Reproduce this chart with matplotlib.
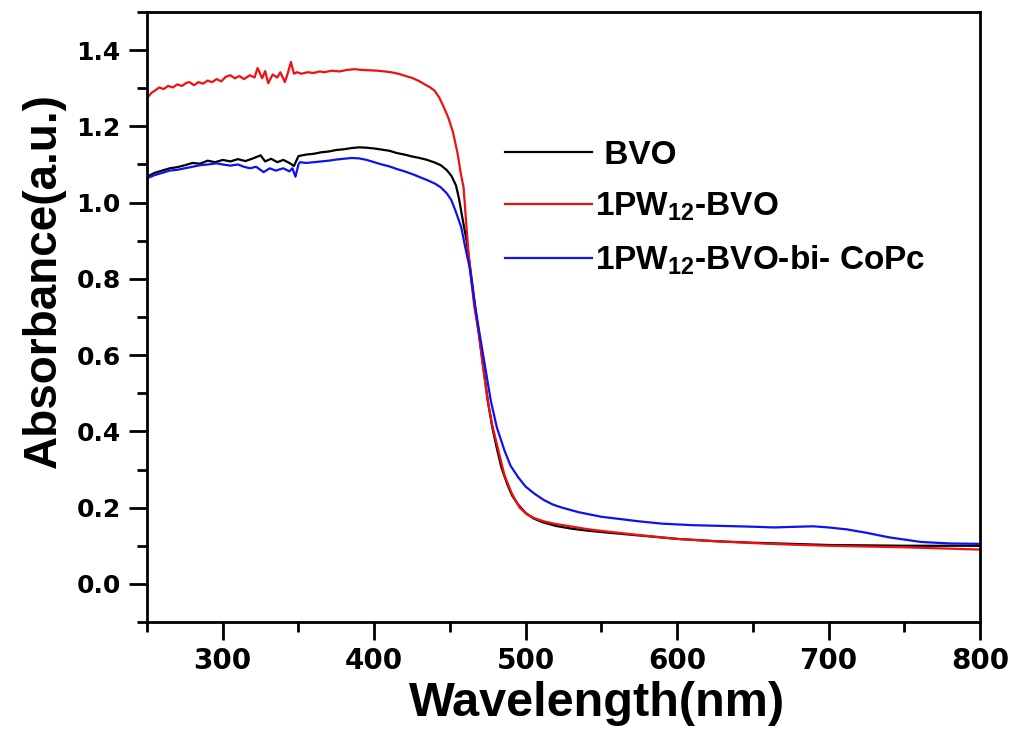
import numpy as np
import matplotlib
matplotlib.use('Agg')
import matplotlib.pyplot as plt
from matplotlib.ticker import MultipleLocator

# BVO (black)
wl_bvo = [250, 255, 260, 265, 270, 275, 280, 285, 290, 295, 300, 305, 310, 315,
          320, 325, 328, 332, 336, 340, 344, 347, 350, 355, 360, 365, 370, 375,
          380, 385, 390, 395, 400, 405, 410, 415, 420, 425, 430, 435, 440, 444,
          448, 451, 454, 456, 458, 461, 463, 465, 467, 469, 472, 475, 478, 481,
          484, 488, 491, 495, 500, 505, 511, 520, 530, 540, 550, 575, 600, 625,
          650, 675, 700, 725, 750, 775, 800]
abs_bvo = [1.068, 1.078, 1.084, 1.090, 1.093, 1.098, 1.104, 1.102, 1.110, 1.106,
           1.112, 1.108, 1.114, 1.109, 1.116, 1.124, 1.108, 1.115, 1.106, 1.112,
           1.104, 1.096, 1.122, 1.126, 1.128, 1.132, 1.134, 1.138, 1.140, 1.143,
           1.145, 1.144, 1.142, 1.139, 1.136, 1.130, 1.126, 1.121, 1.117, 1.112,
           1.105, 1.098, 1.085, 1.070, 1.045, 1.010, 0.965, 0.900, 0.840, 0.780,
           0.715, 0.660, 0.570, 0.480, 0.410, 0.355, 0.305, 0.260, 0.232, 0.208,
           0.186, 0.172, 0.162, 0.152, 0.145, 0.140, 0.136, 0.127, 0.118, 0.112,
           0.108, 0.105, 0.102, 0.101, 0.100, 0.100, 0.100]

# 1PW12-BVO (red)
wl_pw = [250, 253, 256, 258, 261, 264, 267, 270, 273, 276, 278, 281, 284, 287,
         290, 293, 296, 299, 302, 305, 308, 311, 314, 318, 321, 323, 326, 328,
         330, 333, 336, 338, 341, 343, 345, 347, 349, 352, 356, 360, 364, 367,
         372, 377, 382, 387, 392, 397, 402, 407, 411, 416, 420, 425, 429, 433,
         437, 440, 443, 446, 449, 452, 455, 457, 459, 460.5, 462, 464, 466, 469,
         472, 475, 478, 482, 486, 491, 496, 501, 506, 512, 520, 528, 540, 550,
         575, 600, 625, 650, 675, 700, 725, 750, 775, 800]
abs_pw = [1.274, 1.288, 1.296, 1.302, 1.298, 1.306, 1.302, 1.310, 1.306, 1.314,
          1.316, 1.308, 1.316, 1.312, 1.320, 1.316, 1.324, 1.318, 1.330, 1.334,
          1.326, 1.332, 1.324, 1.334, 1.328, 1.353, 1.326, 1.345, 1.313, 1.336,
          1.328, 1.342, 1.316, 1.340, 1.369, 1.338, 1.342, 1.338, 1.342, 1.340,
          1.344, 1.342, 1.346, 1.344, 1.348, 1.350, 1.348, 1.347, 1.346, 1.344,
          1.342, 1.338, 1.333, 1.327, 1.320, 1.311, 1.302, 1.293, 1.275, 1.250,
          1.222, 1.185, 1.130, 1.080, 1.040, 0.960, 0.880, 0.800, 0.730, 0.657,
          0.565, 0.480, 0.415, 0.350, 0.285, 0.236, 0.200, 0.182, 0.172, 0.164,
          0.157, 0.152, 0.144, 0.139, 0.128, 0.118, 0.112, 0.107, 0.103, 0.100,
          0.098, 0.096, 0.093, 0.090]

# 1PW12-BVO-bi-CoPc (blue)
wl_copc = [250, 255, 260, 265, 270, 275, 280, 285, 290, 296, 300, 305, 310, 314,
           318, 322, 327, 331, 335, 340, 344, 346, 348, 350, 351, 355, 360, 365,
           370, 375, 380, 385, 390, 395, 400, 405, 410, 415, 420, 425, 430, 435,
           440, 444, 448, 451, 454, 457.5, 460, 463, 466, 469, 473, 477, 481, 486,
           490, 495, 500, 506, 512, 518, 524, 535, 550, 575, 590, 610, 630, 650,
           664, 680, 690, 700, 712, 725, 740, 761, 780, 800]
abs_copc = [1.064, 1.072, 1.078, 1.084, 1.086, 1.090, 1.094, 1.098, 1.100, 1.103,
            1.100, 1.097, 1.100, 1.094, 1.090, 1.094, 1.080, 1.090, 1.084, 1.090,
            1.082, 1.090, 1.068, 1.100, 1.106, 1.104, 1.106, 1.108, 1.110, 1.113,
            1.115, 1.117, 1.116, 1.112, 1.106, 1.100, 1.095, 1.088, 1.082, 1.075,
            1.067, 1.059, 1.050, 1.040, 1.024, 1.006, 0.975, 0.935, 0.885, 0.830,
            0.745, 0.670, 0.575, 0.480, 0.410, 0.350, 0.310, 0.280, 0.255, 0.236,
            0.220, 0.208, 0.200, 0.188, 0.176, 0.164, 0.158, 0.154, 0.152, 0.150,
            0.148, 0.150, 0.151, 0.148, 0.143, 0.134, 0.122, 0.110, 0.106, 0.105]

labels = ['BVO', '1PW$_{12}$-BVO', '1PW$_{12}$-BVO-bi- CoPc']

plt.rcParams['mathtext.fontset'] = 'custom'
plt.rcParams['mathtext.rm'] = 'Liberation Sans:bold'
plt.rcParams['mathtext.it'] = 'Liberation Sans:bold'
plt.rcParams['mathtext.bf'] = 'Liberation Sans:bold'
plt.rcParams['mathtext.default'] = 'rm'

fig = plt.figure(figsize=(10.16, 7.39), dpi=100)
ax = fig.add_axes([0.1447, 0.1583, 0.8199, 0.8255])

ax.plot(wl_bvo, abs_bvo, color='black', lw=1.6, label=labels[0])
ax.plot(wl_pw, abs_pw, color='#f01010', lw=1.6, label=labels[1])
ax.plot(wl_copc, abs_copc, color='#1010f0', lw=1.6, label=labels[2])

ax.set_xlim(250, 800)
ax.set_ylim(-0.1, 1.5)
ax.xaxis.set_major_locator(MultipleLocator(100))
ax.xaxis.set_minor_locator(MultipleLocator(50))
ax.yaxis.set_minor_locator(MultipleLocator(0.1))
ax.set_yticks(np.arange(0, 1.41, 0.2))

for sp in ax.spines.values():
    sp.set_linewidth(2)
ax.tick_params(which='both', direction='out', width=2, top=False, right=False)
ax.tick_params(which='major', length=13)
ax.tick_params(which='minor', length=7)
ax.tick_params(axis='y', pad=6)
ax.tick_params(axis='x', pad=5)

for t in ax.get_yticklabels():
    t.set_fontfamily('DejaVu Sans')
    t.set_fontweight('bold')
    t.set_fontsize(18)
for t in ax.get_xticklabels():
    t.set_fontfamily('DejaVu Sans')
    t.set_fontweight('bold')
    t.set_fontsize(20)

ax.set_xlabel('Wavelength(nm)', family='Liberation Sans', fontweight='bold',
              fontsize=35)
ax.set_ylabel('Absorbance(a.u.)', family='Liberation Sans', fontweight='bold',
              fontsize=33)
ax.xaxis.set_label_coords(0.54, -0.097)
ax.yaxis.set_label_coords(-0.098, 0.56)

# legend entries: the first label starts with a short gap after its line
leg = ax.legend(loc='upper left', bbox_to_anchor=(0.43, 0.79), frameon=False,
                prop={'family': 'Liberation Sans', 'weight': 'bold', 'size': 24},
                handlelength=2.6, handletextpad=0.1, borderpad=0, borderaxespad=0,
                labelspacing=0.6)
leg.get_texts()[0].set_text(' ' + labels[0])

fig.savefig('out.png', dpi=100)
